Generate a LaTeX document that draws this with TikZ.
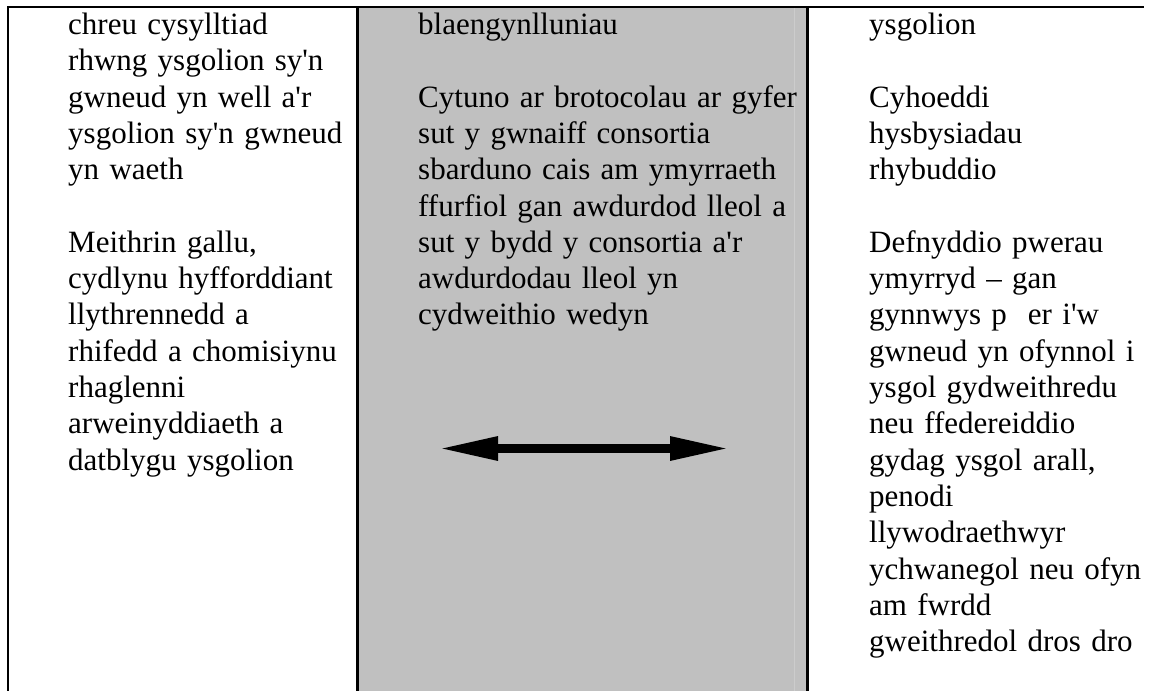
\documentclass[tikz,border=0pt]{standalone}
\usepackage{fontspec}
\setmainfont{Liberation Serif}[Ligatures=TeXOff]
\usetikzlibrary{arrows.meta}
\definecolor{cellgray}{RGB}{192,192,192}
\definecolor{faintline}{RGB}{204,204,204}
\tikzset{
  rule/.style={line width=2.5pt, black},
  celltext/.style={anchor=base west, inner sep=0pt, text width=380pt, align=left,
    font=\fontsize{31}{36.3}\selectfont},
  dblarrow/.style={line width=9pt,
    {Triangle[length=60pt,width=22pt]}-{Triangle[length=60pt,width=22pt]}}
}
\begin{document}
\begin{tikzpicture}[x=1pt,y=-1pt]
\useasboundingbox (0,0) rectangle (1153,691);
% grey middle column
\fill[cellgray] (357.5,7) rectangle (807.5,691);
\draw[faintline, line width=1pt] (794.5,8) -- (794.5,691);
% rules
\draw[rule] (7,7) -- (1144,7);
\draw[rule] (8,7) -- (8,691);
\draw[rule] (357.5,7) -- (357.5,691);
\draw[rule] (807.5,7) -- (807.5,691);
% texts
\node[celltext] (left) at (68,34.5) {chreu cysylltiad\\
rhwng ysgolion sy'n\\
gwneud yn well a'r\\
ysgolion sy'n gwneud\\
yn waeth\\
\mbox{}\\
Meithrin gallu,\\
cydlynu hyfforddiant\\
llythrennedd a\\
rhifedd a chomisiynu\\
rhaglenni\\
arweinyddiaeth a\\
datblygu ysgolion};
\node[celltext] (middle) at (418,34.5) {blaengynlluniau\\
\mbox{}\\
Cytuno ar brotocolau ar gyfer\\
sut y gwnaiff consortia\\
sbarduno cais am ymyrraeth\\
ffurfiol gan awdurdod lleol a\\
sut y bydd y consortia a'r\\
awdurdodau lleol yn\\
cydweithio wedyn};
\node[celltext] (right) at (869,34.5) {ysgolion\\
\mbox{}\\
Cyhoeddi\\
hysbysiadau\\
rhybuddio\\
\mbox{}\\
Defnyddio pwerau\\
ymyrryd – gan\\
gynnwys p\hspace{21pt}er i'w\\
gwneud yn ofynnol i\\
ysgol gydweithredu\\
neu ffedereiddio\\
gydag ysgol arall,\\
penodi\\
llywodraethwyr\\
ychwanegol neu ofyn\\
am fwrdd\\
gweithredol dros dro};
% double arrow
\coordinate (arrL) at (438,448.5);
\coordinate (arrR) at (730,448.5);
\draw[dblarrow] (arrL) -- (arrR);
\end{tikzpicture}
\end{document}
